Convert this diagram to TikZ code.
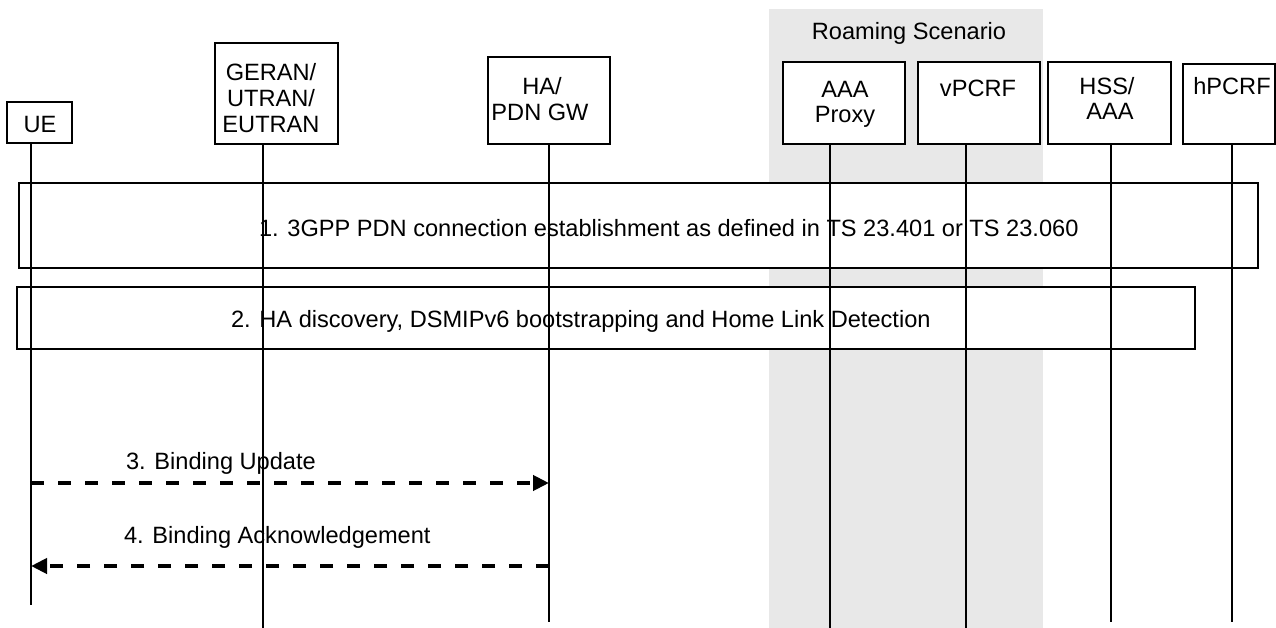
\documentclass[tikz,border=0pt]{standalone}
\usepackage{fontspec}
\setmainfont{Liberation Sans}
\usetikzlibrary{arrows.meta}
\begin{document}
\begin{tikzpicture}[x=1pt,y=-1pt,
  every node/.style={font=\fontsize{23.6}{25.5}\selectfont, inner sep=0pt, outer sep=0pt},
  entity/.style={draw, fill=white, line width=1.3pt, anchor=north west, inner sep=0pt},
  stepbox/.style={draw, fill=white, line width=2pt, anchor=north west, inner sep=0pt},
  lbl/.style={anchor=base, inner sep=0pt},
  lbll/.style={anchor=base west, inner sep=0pt},
  life/.style={line width=1.3pt},
  msg/.style={line width=4pt, dash pattern=on 13pt off 14pt, -{Triangle[length=16pt,width=15pt]}},
  roam/.style={fill=gray!18, draw=none, anchor=north west, inner sep=0pt}
]
\useasboundingbox (0,0) rectangle (1276,628);
% roaming area
\node[roam, minimum width=274pt, minimum height=619pt] (roam) at (769,9) {};
\node[lbl] (roam-t) at (909,40) {Roaming Scenario};
% step boxes
\node[stepbox, minimum width=1239pt, minimum height=85pt] (s1) at (19,183) {};
\node[lbll] (s1-t) at (259,237) {1. 3GPP PDN connection establishment as defined in TS 23.401 or TS 23.060};
\node[stepbox, minimum width=1178pt, minimum height=62pt] (s2) at (17,287) {};
\node[lbll] (s2-t) at (231,327) {2. HA discovery, DSMIPv6 bootstrapping and Home Link Detection};
% entities
\node[entity, minimum width=65pt, minimum height=41pt] (ue) at (7,102) {};
\node[entity, minimum width=123pt, minimum height=101pt] (geran) at (215,43) {};
\node[entity, minimum width=122pt, minimum height=87pt] (ha) at (488,57) {};
\node[entity, minimum width=122pt, minimum height=82pt] (aaa) at (783,62) {};
\node[entity, minimum width=122pt, minimum height=82pt] (vpcrf) at (918,62) {};
\node[entity, minimum width=123pt, minimum height=82pt] (hss) at (1048,62) {};
\node[entity, minimum width=92pt, minimum height=80pt] (hpcrf) at (1183,64) {};
\node[lbl] (ue-t) at (40,133) {UE};
\node[lbl] (geran-t1) at (271,81) {GERAN/};
\node[lbl] (geran-t2) at (271,107) {UTRAN/};
\node[lbl] (geran-t3) at (271,133) {EUTRAN};
\node[lbl] (ha-t1) at (542,95) {HA/};
\node[lbl] (ha-t2) at (540,121) {PDN GW};
\node[lbl] (aaa-t1) at (845,98) {AAA};
\node[lbl] (aaa-t2) at (845,123) {Proxy};
\node[lbl] (vpcrf-t) at (978,97) {vPCRF};
\node[lbl] (hss-t1) at (1107,95) {HSS/};
\node[lbl] (hss-t2) at (1110,120) {AAA};
\node[lbl] (hpcrf-t) at (1232,95) {hPCRF};
% message labels
\node[lbll] (m3-t) at (126,469) {3. Binding Update};
\node[lbll] (m4-t) at (124,543) {4. Binding Acknowledgement};
% lifelines
\coordinate (ue-b) at (31,605);
\coordinate (geran-b) at (263,628);
\coordinate (ha-b) at (549,622);
\coordinate (aaa-b) at (830,628);
\coordinate (vpcrf-b) at (966,628);
\coordinate (hss-b) at (1111,622);
\coordinate (hpcrf-b) at (1232,622);
\draw[life] (ue-b |- ue.south) -- (ue-b);
\draw[life] (geran-b |- geran.south) -- (geran-b);
\draw[life] (ha-b |- ha.south) -- (ha-b);
\draw[life] (aaa-b |- aaa.south) -- (aaa-b);
\draw[life] (vpcrf-b |- vpcrf.south) -- (vpcrf-b);
\draw[life] (hss-b |- hss.south) -- (hss-b);
\draw[life] (hpcrf-b |- hpcrf.south) -- (hpcrf-b);
% messages
\coordinate (m3a) at (ue-b |- 0,483);
\coordinate (m3b) at (ha-b |- 0,483);
\coordinate (m4a) at (ha-b |- 0,566);
\coordinate (m4b) at (ue-b |- 0,566);
\draw[msg] (m3a) -- (m3b);
\draw[msg] (m4a) -- (m4b);
\end{tikzpicture}
\end{document}
